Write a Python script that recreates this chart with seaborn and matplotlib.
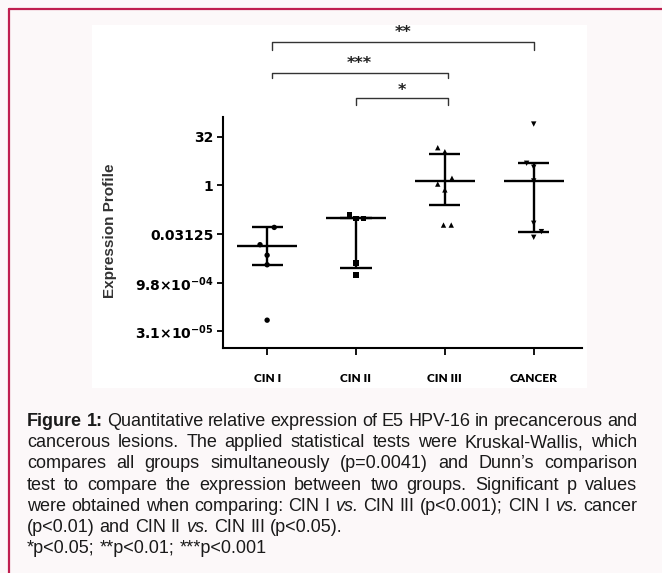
import matplotlib
matplotlib.use('Agg')
import matplotlib.pyplot as plt
import seaborn as sns
import numpy as np
import pandas as pd
from matplotlib.lines import Line2D
from matplotlib.patches import Rectangle
import matplotlib.transforms as mtransforms

# ---------------- data ----------------
categories = ["CIN I", "CIN II", "CIN III", "CANCER"]
markers_by_group = {"CIN I": "o", "CIN II": "s", "CIN III": "^", "CANCER": "v"}

cin1_values = [0.050, 0.0146, 0.0069, 0.0035, 0.000068]
cin1_offsets = [0.08, -0.08, 0.0, 0.0, 0.0]
cin2_values = [0.121, 0.0954, 0.0954, 0.0040, 0.00169]
cin2_offsets = [-0.075, 0.085, 0.0, 0.0, 0.0]
cin3_values = [14.5, 10.9, 1.65, 1.09, 0.72, 0.059, 0.059]
cin3_offsets = [-0.08, 0.0, 0.08, -0.08, 0.0, -0.015, 0.072]
cancer_values = [78.0, 4.79, 3.6, 1.36, 0.067, 0.037, 0.0247]
cancer_offsets = [0.0, -0.08, 0.0, 0.0, 0.0, 0.087, 0.0]

medians = [0.0136, 0.0954, 1.36, 1.36]
lower = [0.0035, 0.00284, 0.247, 0.037]
upper = [0.050, 0.0954, 9.06, 4.79]

ytick_values = [32, 1, 0.03125, 2**-10, 2**-15]
ytick_labels = ["32", "1", "0.03125", r"$9.8{\times}10^{-04}$", r"$3.1{\times}10^{-05}$"]

comparisons = [(0, 3, "**"), (0, 2, "***"), (1, 2, "*")]

caption_lines = [
    [("Figure", "b"), ("1:", "b"), ("Quantitative", ""), ("relative", ""), ("expression", ""), ("of", ""),
     ("E5", ""), ("HPV-16", ""), ("in", ""), ("precancerous", ""), ("and", "")],
    [("cancerous", ""), ("lesions.", ""), ("The", ""), ("applied", ""), ("statistical", ""), ("tests", ""),
     ("were", ""), ("Kruskal-Wallis,", ""), ("which", "")],
    [("compares", ""), ("all", ""), ("groups", ""), ("simultaneously", ""), ("(p=0.0041)", ""), ("and", ""),
     ("Dunn\u2019s", ""), ("comparison", "")],
    [("test", ""), ("to", ""), ("compare", ""), ("the", ""), ("expression", ""), ("between", ""), ("two", ""),
     ("groups.", ""), ("Significant", ""), ("p", ""), ("values", "")],
    [("were", ""), ("obtained", ""), ("when", ""), ("comparing:", ""), ("CIN", ""), ("I", ""), ("vs.", "i"),
     ("CIN", ""), ("III", ""), ("(p<0.001);", ""), ("CIN", ""), ("I", ""), ("vs.", "i"), ("cancer", "")],
    [("(p<0.01)", ""), ("and", ""), ("CIN", ""), ("II", ""), ("vs.", "i"), ("CIN", ""), ("III", ""), ("(p<0.05).", "")],
    [("*p<0.05;", ""), ("**p<0.01;", ""), ("***p<0.001", "")],
]
justified = [True, True, True, True, True, False, False]

# ---------------- figure ----------------
W, H = 662, 573
sns.set_style("ticks")
plt.rcParams['font.family'] = ['DejaVu Sans']
plt.rcParams['mathtext.default'] = 'bf'

fig = plt.figure(figsize=(W / 100, H / 100), dpi=100, facecolor='#fcf8f9')

def fx(px):
    return px / W

def fy(py):
    return 1 - py / H

# inner white picture
fig.patches.append(Rectangle((fx(92), fy(388)), fx(587) - fx(92), fy(25) - fy(388),
                             transform=fig.transFigure, facecolor='white', edgecolor='none', zorder=-5))
# crimson frame lines
fig.lines.append(Line2D([fx(9), fx(9)], [fy(9), 0], transform=fig.transFigure, color='#bf1f4f', lw=1.6, zorder=-4))
fig.lines.append(Line2D([fx(9), 1], [fy(9), fy(9)], transform=fig.transFigure, color='#bf1f4f', lw=1.6, zorder=-4))

ax = fig.add_axes([fx(222.7), fy(347.7), fx(581.7) - fx(222.7), fy(116.7) - fy(347.7)])
ax.set_zorder(2)
ax.set_facecolor('none')

rows = []
for cat, vals, offs in [(categories[0], cin1_values, cin1_offsets),
                        (categories[1], cin2_values, cin2_offsets),
                        (categories[2], cin3_values, cin3_offsets),
                        (categories[3], cancer_values, cancer_offsets)]:
    idx = categories.index(cat)
    for v, o in zip(vals, offs):
        rows.append({"group": cat, "pos": idx + o, "value": v})
df = pd.DataFrame(rows)

ax.set_yscale('log', base=2)
sns.scatterplot(data=df, x="pos", y="value", style="group", markers=markers_by_group,
                color='black', s=15, linewidth=0, legend=False, ax=ax, zorder=3)

pos = np.arange(len(categories))
ax.hlines(medians, pos - 0.34, pos + 0.34, color='black', lw=1.7, zorder=2)
ax.hlines(lower, pos - 0.175, pos + 0.175, color='black', lw=1.7, zorder=2)
ax.hlines(upper, pos - 0.175, pos + 0.175, color='black', lw=1.7, zorder=2)
ax.vlines(pos, lower, upper, color='black', lw=1.7, zorder=2)

ax.set_xlim(-0.5, 3.54)
ax.set_ylim(2 ** -16.67, 2 ** 7.04)
ax.set_yticks(ytick_values)
ax.set_yticklabels(ytick_labels)
ax.yaxis.set_minor_locator(matplotlib.ticker.NullLocator())
ax.set_xticks(pos)
ax.set_xticklabels(categories, fontfamily='Lato', fontweight='heavy', fontsize=8.6)
for lab in ax.get_yticklabels():
    lab.set_fontweight('bold')
    lab.set_fontsize(10)

for s in ['top', 'right']:
    ax.spines[s].set_visible(False)
for s in ['left', 'bottom']:
    ax.spines[s].set_linewidth(1.5)
    ax.spines[s].set_color('black')
ax.tick_params(axis='y', length=4, width=1.3, pad=2.5, colors='black')
ax.tick_params(axis='x', length=5, width=1.3, pad=13, colors='black')

ax.set_xlabel("")
ax.set_ylabel("Expression Profile", fontsize=11, fontweight='bold', color='#333333',
              fontfamily='Liberation Sans')
ax.yaxis.set_label_coords(-0.295, 0.505)

# significance brackets (x in data, y in axes fraction)
trans = mtransforms.blended_transform_factory(ax.transData, ax.transAxes)
def axfrac(py):
    return (347.7 - py) / (347.7 - 116.7)
bracket_geom = [(41.7, 50.0, 32.5), (73.3, 78.0, 63.5), (98.3, 105.0, 91.0)]
for (a, b, lab), (ytop, ytick, ytext) in zip(comparisons, bracket_geom):
    xa = a + 0.05 if a == 0 else a
    xb = b + 0.03 if b == 2 else b
    ax.plot([xa, xa, xb, xb], [axfrac(ytick), axfrac(ytop), axfrac(ytop), axfrac(ytick)],
            transform=trans, color='#333333', lw=1.0, clip_on=False)
    ax.text((xa + xb) / 2, axfrac(ytext), lab, transform=trans, ha='center', va='center',
            fontsize=11.5, fontweight='bold', color='#222222', clip_on=False)

# ---------------- caption (justified) ----------------
fig.canvas.draw()
renderer = fig.canvas.get_renderer()
cap_font = 'Liberation Sans'
cap_size = 13.0
left_px, right_px = 27.0, 637.0
baseline0, line_gap = 426.0, 21.2

def make_text(word, style, x=0, y=0):
    kw = dict(fontfamily=cap_font, fontsize=cap_size, color='#1a1a1a', va='baseline', ha='left')
    if style == 'b':
        kw['fontweight'] = 'bold'
    if style == 'i':
        kw['fontstyle'] = 'italic'
    return fig.text(x, y, word, **kw)

space_probe = make_text("a a", "")
w_aa = make_text("aa", "")
sw = space_probe.get_window_extent(renderer).width - w_aa.get_window_extent(renderer).width
space_probe.remove()
w_aa.remove()

for li, (tokens, just) in enumerate(zip(caption_lines, justified)):
    texts = [make_text(w, s) for w, s in tokens]
    widths = [t.get_window_extent(renderer).width for t in texts]
    if just and len(tokens) > 1:
        gap = (right_px - left_px - sum(widths)) / (len(tokens) - 1)
    else:
        gap = sw
    x = left_px
    yb = baseline0 + li * line_gap
    for t, w in zip(texts, widths):
        t.set_position((fx(x), fy(yb)))
        x += w + gap

fig.savefig("out.png", dpi=100, facecolor=fig.get_facecolor())
